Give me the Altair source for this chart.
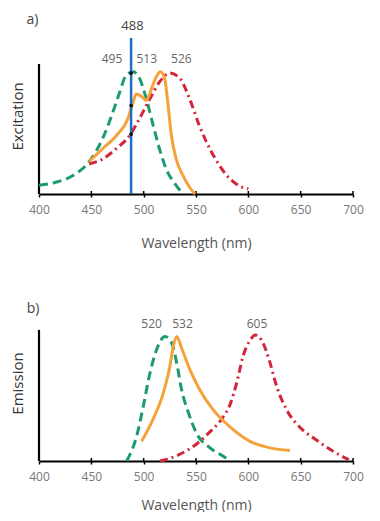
import altair as alt
import pandas as pd

TICKS = [400, 450, 500, 550, 600, 650, 700]
GREEN = "#1b9b6f"
ORANGE = "#f5a23a"
RED = "#d3263a"
BLUE = "#1f6fc0"
FONT = "Open Sans"

# ---- a) Excitation ----
ex_green_wl = [400, 416, 432, 448, 461, 470.6, 477, 483, 490, 496, 502.6, 509, 515, 521.7, 531, 537.7]
ex_green_v = [0.067, 0.09, 0.14, 0.25, 0.43, 0.63, 0.78, 0.91, 0.94, 0.89, 0.73, 0.53, 0.35, 0.19, 0.067, 0.0]
ex_orange_wl = [448, 461, 474, 485, 490, 493, 498, 502.6, 507, 512, 516, 520, 523, 526.5, 531, 537.7, 544, 549]
ex_orange_v = [0.25, 0.35, 0.45, 0.58, 0.71, 0.77, 0.75, 0.72, 0.80, 0.90, 0.94, 0.89, 0.71, 0.45, 0.27, 0.14, 0.05, 0.0]
ex_red_wl = [448, 461, 474, 486.6, 496, 505.8, 515, 525, 534.5, 544, 553, 560, 570, 582, 592, 600]
ex_red_v = [0.23, 0.27, 0.35, 0.45, 0.58, 0.73, 0.86, 0.93, 0.89, 0.73, 0.53, 0.40, 0.25, 0.12, 0.06, 0.04]
laser_wl = 488
laser_top = 1.2
dots_v = [0.93, 0.68, 0.46]
ex_peak_text = ["495", "513", "526"]
ex_peak_wl = [469.7, 502.9, 536]
ex_peak_v = 1.035

# ---- b) Emission ----
em_green_wl = [483.8, 493.3, 499.7, 506, 512.4, 520.4, 526.8, 531.5, 536.3, 542.7, 550.6, 563.4, 576, 582.5]
em_green_v = [0, 0.19, 0.42, 0.67, 0.85, 0.95, 0.90, 0.75, 0.54, 0.37, 0.21, 0.10, 0.036, 0]
em_orange_wl = [498, 509, 518.8, 525, 528.3, 531.5, 536.3, 544, 553.8, 566.5, 582.5, 601.6, 620.7, 639.8]
em_orange_v = [0.15, 0.32, 0.52, 0.72, 0.875, 0.95, 0.86, 0.70, 0.54, 0.39, 0.26, 0.15, 0.10, 0.08]
em_red_wl = [515.6, 531.5, 550.6, 563, 574.5, 582.5, 589, 595, 601.6, 607, 614, 620.7, 627, 636.6, 649, 665, 681, 696]
em_red_v = [0, 0.04, 0.13, 0.22, 0.32, 0.43, 0.60, 0.80, 0.92, 0.96, 0.90, 0.75, 0.57, 0.39, 0.26, 0.16, 0.074, 0.01]
em_peak_text = ["520", "532", "605"]
em_peak_wl = [507.6, 537.1, 608.3]
em_peak_v = 1.046


def make_panel(curves, ytitle, tag, tag_wl, tag_v, peak_text, peak_wl, peak_v,
               height, ymax, title_y, xtitle_pad, laser=False):
    px_per_unit = height / ymax
    xenc = alt.X("wl:Q", scale=alt.Scale(domain=[400, 700], nice=False, zero=False),
                 axis=alt.Axis(values=TICKS, title="Wavelength (nm)", grid=False,
                               domainColor="black", domainWidth=2,
                               tickColor="black", tickWidth=1.5, tickSize=3,
                               labelColor="#777", labelFontSize=12, labelPadding=7,
                               labelFlush=False,
                               labelFont=FONT, titleFont=FONT, titleFontSize=14,
                               titleFontWeight="normal", titleColor="#555",
                               titlePadding=xtitle_pad))
    yscale = alt.Scale(domain=[0, ymax], nice=False, zero=False)
    yaxis = alt.Axis(title=ytitle, labels=False, ticks=False, domain=False, grid=False,
                     titleFont=FONT, titleFontSize=15, titleFontWeight="normal",
                     titleColor="#333", titlePadding=14, titleY=title_y)
    yenc = alt.Y("v:Q", scale=yscale, axis=yaxis)

    layers = []
    tdf = pd.DataFrame({"wl": TICKS, "v": [0] * len(TICKS), "v2": [3.0 / px_per_unit] * len(TICKS)})
    layers.append(alt.Chart(tdf).mark_rule(color="black", strokeWidth=1.5).encode(
        x=xenc, y=yenc, y2="v2:Q"))
    ydf = pd.DataFrame({"wl": [400], "v": [0], "v2": [1.0]})
    layers.append(alt.Chart(ydf).mark_rule(color="black", strokeWidth=2.2).encode(
        x=xenc, y=yenc, y2="v2:Q"))

    for wl, vals, color, dash in curves:
        df = pd.DataFrame({"wl": wl, "v": vals})
        kw = dict(color=color, strokeWidth=3, interpolate="monotone")
        if dash:
            kw["strokeDash"] = dash
        layers.append(alt.Chart(df).mark_line(**kw).encode(x=xenc, y=yenc))

    if laser:
        ldf = pd.DataFrame({"wl": [laser_wl], "v": [0], "v2": [laser_top]})
        layers.append(alt.Chart(ldf).mark_rule(color=BLUE, strokeWidth=2.5).encode(
            x=xenc, y=yenc, y2="v2:Q"))
        ddf = pd.DataFrame({"wl": [laser_wl] * len(dots_v), "v": dots_v})
        layers.append(alt.Chart(ddf).mark_circle(color="#111", size=14, opacity=1).encode(
            x=xenc, y=yenc))
        l488 = pd.DataFrame({"wl": [489.3], "v": [(laser_top + 0.09)], "t": ["488"]})
        layers.append(alt.Chart(l488).mark_text(font=FONT, fontSize=13, color="#444",
                                                 align="center", baseline="middle").encode(
            x=xenc, y=yenc, text="t:N"))

    pdf = pd.DataFrame({"wl": peak_wl, "v": [peak_v] * len(peak_wl), "t": peak_text})
    layers.append(alt.Chart(pdf).mark_text(font=FONT, fontSize=12, color="#666",
                                           align="center", baseline="middle").encode(
        x=xenc, y=yenc, text="t:N"))
    tg = pd.DataFrame({"wl": [tag_wl], "v": [tag_v], "t": [tag]})
    layers.append(alt.Chart(tg).mark_text(font=FONT, fontSize=14, color="#444",
                                          align="center", baseline="middle").encode(
        x=xenc, y=yenc, text="t:N"))

    return alt.layer(*layers).properties(width=314, height=height)


top = make_panel(
    [(ex_green_wl, ex_green_v, GREEN, [9, 5]),
     (ex_red_wl, ex_red_v, RED, [8, 4, 2, 4]),
     (ex_orange_wl, ex_orange_v, ORANGE, None)],
    "Excitation", "a)", 393.8, 1.342, ex_peak_text, ex_peak_wl, ex_peak_v,
    height=182, ymax=1.4, title_y=104, xtitle_pad=21, laser=True)

bottom = make_panel(
    [(em_green_wl, em_green_v, GREEN, [9, 5]),
     (em_red_wl, em_red_v, RED, [8, 4, 2, 4]),
     (em_orange_wl, em_orange_v, ORANGE, None)],
    "Emission", "b)", 394.3, 1.156, em_peak_text, em_peak_wl, em_peak_v,
    height=160, ymax=1.22, title_y=82, xtitle_pad=16)

chart = alt.vconcat(top, bottom, spacing=51).properties(
    padding={"left": 2, "top": 4, "right": 5, "bottom": 0},
    background="white",
).configure_view(stroke=None)

chart.save("out.html", embed_options={"renderer": "svg", "actions": False})
